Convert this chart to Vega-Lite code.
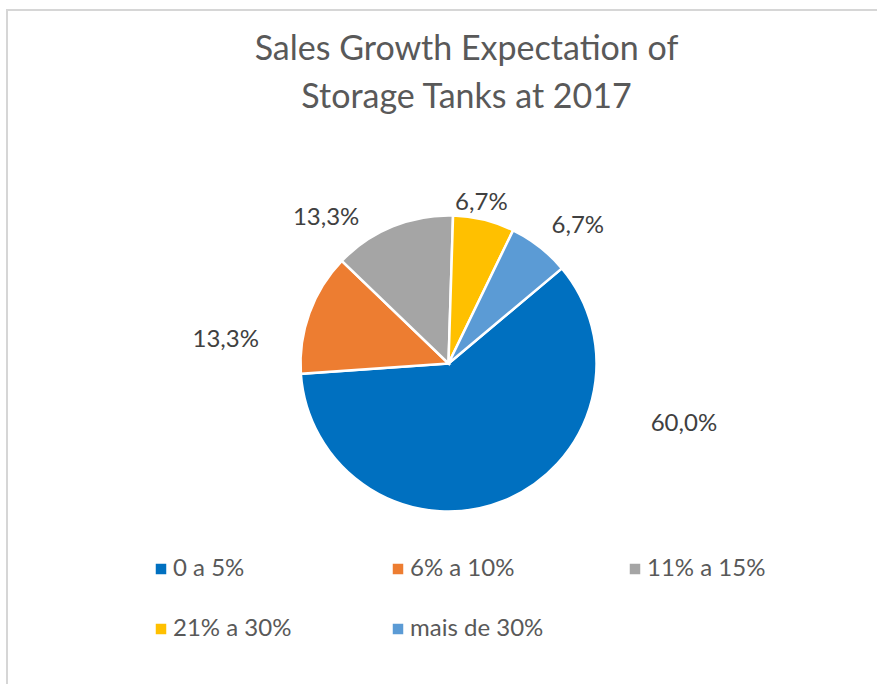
{
  "$schema": "https://vega.github.io/schema/vega-lite/v6.json",
  "width": 883,
  "height": 707,
  "autosize": {"type": "none"},
  "padding": {"left": 7, "top": 10, "right": 0, "bottom": 0},
  "background": "white",
  "view": {"stroke": "#d6d6d6", "strokeWidth": 2},
  "config": {
    "font": "Lato"
  },
  "title": {
    "text": ["Sales Growth Expectation of", "Storage Tanks at 2017"],
    "font": "Lato",
    "fontSize": 34,
    "fontWeight": "normal",
    "color": "#595959",
    "anchor": "middle",
    "frame": "group",
    "baseline": "alphabetic",
    "lineHeight": 48,
    "offset": -132,
    "dx": 18
  },
  "data": {
    "values": [
      {"cat": "0 a 5%", "value": 60.0, "label": "60,0%", "ord": 1},
      {"cat": "6% a 10%", "value": 13.3, "label": "13,3%", "ord": 2},
      {"cat": "11% a 15%", "value": 13.3, "label": "13,3%", "ord": 3},
      {"cat": "21% a 30%", "value": 6.7, "label": "6,7%", "ord": 4},
      {"cat": "mais de 30%", "value": 6.7, "label": "6,7%", "ord": 5}
    ]
  },
  "transform": [
    {"stack": "value", "groupby": [], "sort": [{"field": "ord", "order": "ascending"}], "as": ["v0", "v1"]}
  ],
  "layer": [
    {
      "mark": {"type": "arc", "outerRadius": 148, "stroke": "white", "strokeWidth": 2.5},
      "encoding": {
        "theta": {"field": "v0", "type": "quantitative", "scale": {"domain": [0, 100], "range": [0.8727, 7.1559]}},
        "theta2": {"field": "v1"},
        "color": {
          "field": "cat",
          "type": "nominal",
          "scale": {
            "domain": ["0 a 5%", "6% a 10%", "11% a 15%", "21% a 30%", "mais de 30%"],
            "range": ["#0070C0", "#ED7D31", "#A5A5A5", "#FFC000", "#5B9BD5"]
          },
          "legend": {
            "orient": "none",
            "legendX": 142,
            "legendY": 547,
            "direction": "horizontal",
            "columns": 3,
            "gridAlign": "all",
            "title": null,
            "padding": 0,
            "symbolType": "square",
            "symbolSize": 110,
            "symbolStrokeWidth": 0,
            "labelFont": "Lato",
            "labelFontSize": 24,
            "labelColor": "#595959",
            "labelOffset": 0,
            "labelLimit": 300,
            "columnPadding": 79,
            "rowPadding": 36
          }
        }
      }
    },
    {
      "transform": [{"filter": "datum.ord == 1"}],
      "mark": {"type": "text", "radius": 243, "thetaOffset": 0.949, "font": "Lato", "fontSize": 24, "color": "#404040"},
      "encoding": {"theta": {"field": "v0", "type": "quantitative"}, "text": {"field": "label"}}
    },
    {
      "transform": [{"filter": "datum.ord == 2"}],
      "mark": {"type": "text", "radius": 224, "thetaOffset": 0.1745, "font": "Lato", "fontSize": 24, "color": "#404040"},
      "encoding": {"theta": {"field": "v0", "type": "quantitative"}, "text": {"field": "label"}}
    },
    {
      "transform": [{"filter": "datum.ord == 3"}],
      "mark": {"type": "text", "radius": 190, "thetaOffset": 0.105, "font": "Lato", "fontSize": 24, "color": "#404040"},
      "encoding": {"theta": {"field": "v0", "type": "quantitative"}, "text": {"field": "label"}}
    },
    {
      "transform": [{"filter": "datum.ord == 4"}],
      "mark": {"type": "text", "radius": 164, "thetaOffset": 0.171, "font": "Lato", "fontSize": 24, "color": "#404040"},
      "encoding": {"theta": {"field": "v0", "type": "quantitative"}, "text": {"field": "label"}}
    },
    {
      "transform": [{"filter": "datum.ord == 5"}],
      "mark": {"type": "text", "radius": 189, "thetaOffset": 0.302, "font": "Lato", "fontSize": 24, "color": "#404040"},
      "encoding": {"theta": {"field": "v0", "type": "quantitative"}, "text": {"field": "label"}}
    }
  ]
}
